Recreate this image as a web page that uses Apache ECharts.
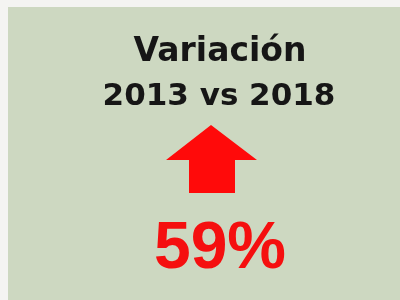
<!DOCTYPE html>
<html><head><meta charset="utf-8">
<script src="https://cdn.jsdelivr.net/npm/echarts@6/dist/echarts.min.js"></script>
<style>html,body{margin:0;padding:0;background:#f4f4f2}#c{width:400px;height:300px}</style>
</head><body><div id="c"></div>
<script>
var titleLines = ['Variación', '2013 vs 2018'];
var changeValues = [59];
var changeUnits = ['%'];

var chart = echarts.init(document.getElementById('c'), null, {renderer: 'canvas'});
chart.setOption({
  backgroundColor: '#f4f4f2',
  graphic: [
    {type: 'rect', shape: {x: 8, y: 7, width: 392, height: 293}, style: {fill: '#cdd8c1'}},
    {type: 'text', style: {text: titleLines[0], x: 220, y: 52, textAlign: 'center', textVerticalAlign: 'middle', font: 'bold 33px "DejaVu Sans"', fill: '#161616'}},
    {type: 'text', style: {text: titleLines[1], x: 219, y: 97, textAlign: 'center', textVerticalAlign: 'middle', font: 'bold 31px "DejaVu Sans"', fill: '#161616'}},
    {type: 'polygon', shape: {points: [[211,125],[257,160],[235,160],[235,193],[189,193],[189,160],[166,160]]}, style: {fill: '#ff0a0a'}},
    {type: 'text', style: {text: changeValues[0] + changeUnits[0], x: 220, y: 250, textAlign: 'center', textVerticalAlign: 'middle', font: 'bold 66px "Liberation Sans"', fill: '#f50f0f'}}
  ]
});
</script></body></html>
